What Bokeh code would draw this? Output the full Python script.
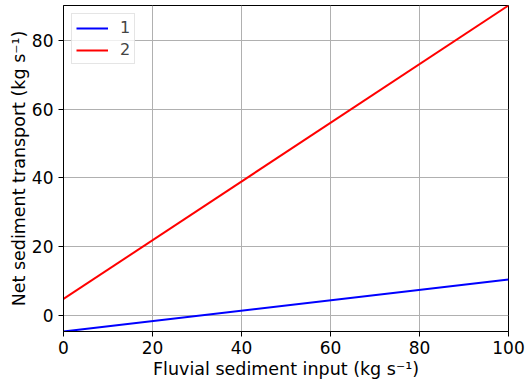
from bokeh.plotting import figure
from bokeh.models import Range1d, FixedTicker, Legend, LegendItem
from bokeh.embed import file_html
from bokeh.resources import INLINE

# Data
x_vals = [0, 100]
series_1 = [-4.8, 10.4]
series_2 = [4.7, 90.3]
labels = ["1", "2"]
x_ticks = [0, 20, 40, 60, 80, 100]
y_ticks = [0, 20, 40, 60, 80]

FONT = "DejaVu Sans"

p = figure(width=526, height=384, output_backend="svg", toolbar_location=None,
           x_range=Range1d(0, 100), y_range=Range1d(min(series_1), max(series_2)),
           min_border_left=63, min_border_right=18, min_border_top=5, min_border_bottom=53)

p.outline_line_color = "black"
p.outline_line_width = 1
p.outline_line_alpha = 1

r1 = p.line(x_vals, series_1, line_color="blue", line_width=2)
r2 = p.line(x_vals, series_2, line_color="red", line_width=2)

for ax, ticks in ((p.xaxis[0], x_ticks), (p.yaxis[0], y_ticks)):
    ax.ticker = FixedTicker(ticks=ticks)
    ax.minor_tick_line_color = None
    ax.major_tick_out = 5
    ax.major_tick_in = 0
    ax.major_tick_line_color = "black"
    ax.axis_line_color = "black"
    ax.major_label_text_font = FONT
    ax.major_label_text_font_size = "17px"
    ax.major_label_text_color = "black"
    ax.axis_label_text_font = FONT
    ax.axis_label_text_font_size = "17.5px"
    ax.axis_label_text_font_style = "normal"
    ax.axis_label_text_color = "black"

p.xaxis.major_label_standoff = 4
p.yaxis.major_label_standoff = 5
p.xaxis.axis_label = "Fluvial sediment input (kg s\u207b\u00b9)"
p.yaxis.axis_label = "Net sediment transport (kg s\u207b\u00b9)"
p.xaxis.axis_label_standoff = 2
p.yaxis.axis_label_standoff = 0

p.grid.grid_line_color = "#b0b0b0"
p.grid.grid_line_width = 1
p.xgrid.ticker = FixedTicker(ticks=x_ticks)
p.ygrid.ticker = FixedTicker(ticks=y_ticks)

legend = Legend(items=[LegendItem(label=labels[0], renderers=[r1]),
                       LegendItem(label=labels[1], renderers=[r2])],
                location="top_left")
legend.label_text_font = FONT
legend.label_text_font_size = "16px"
legend.glyph_width = 32
legend.glyph_height = 18
legend.label_height = 18
legend.label_width = 4
legend.spacing = 3
legend.padding = 4
legend.margin = 8
legend.border_line_color = "#cccccc"
legend.background_fill_alpha = 0.8
legend.label_standoff = 12
p.add_layout(legend)

open("out.html", "w").write(file_html(p, INLINE))
